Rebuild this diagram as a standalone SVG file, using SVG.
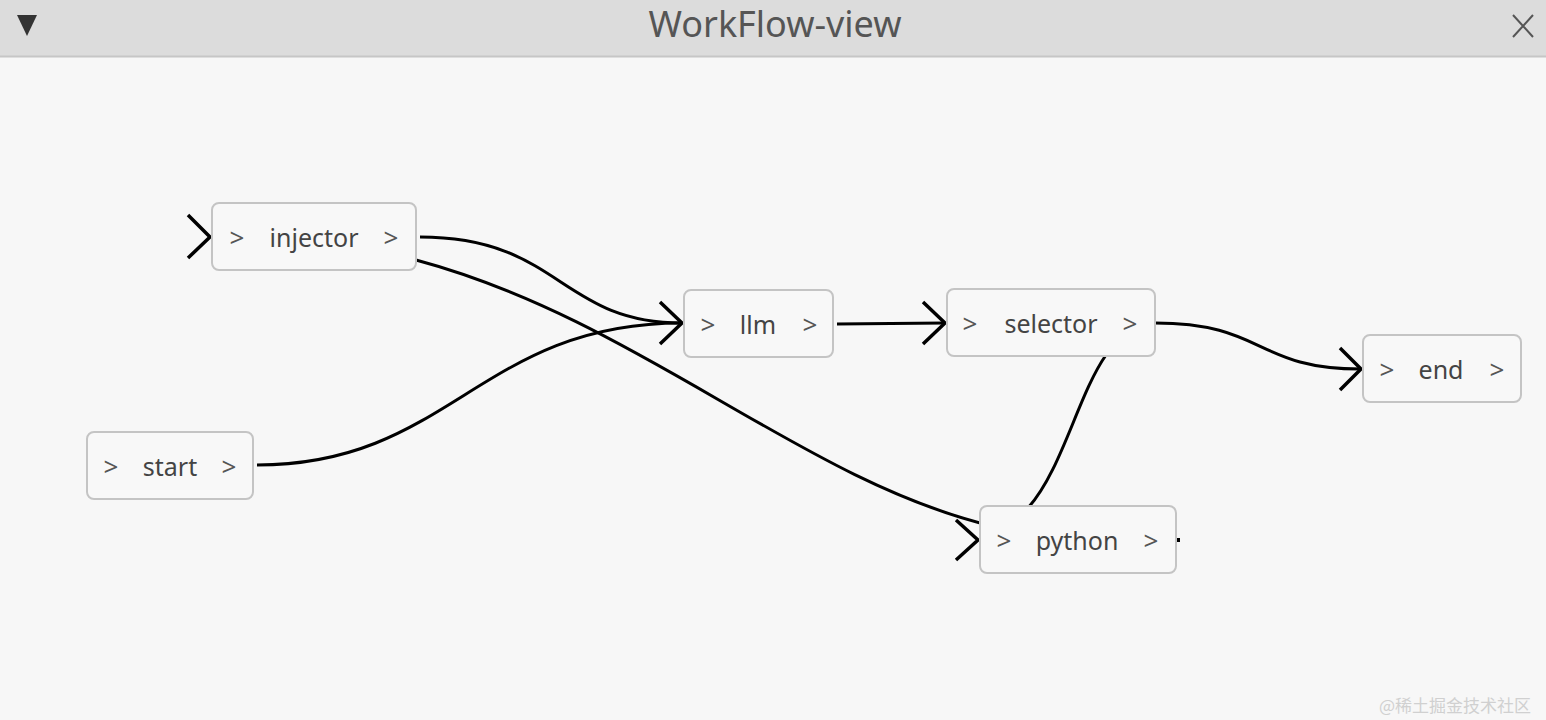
<svg xmlns="http://www.w3.org/2000/svg" width="1546" height="720" viewBox="0 0 1546 720">
<style>
.node rect{fill:#f8f8f8;stroke:#c4c4c4;stroke-width:2}
.node text{font-family:"Noto Sans",sans-serif;font-size:25px;fill:#444;text-anchor:middle;dominant-baseline:central}
.node .p{fill:#555;font-size:26px}
.edge{fill:none;stroke:#000;stroke-width:3}
.chev{fill:none;stroke:#000;stroke-width:3.5}
</style>
<rect x="0" y="0" width="1546" height="720" fill="#f7f7f7"/>
<g id="titlebar">
<rect x="0" y="0" width="1546" height="56" fill="#dcdcdc"/>
<line x1="0" y1="56.5" x2="1546" y2="56.5" stroke="#c6c6c6" stroke-width="2"/>
<polygon points="17,15 37,15 27,36" fill="#333"/>
<text x="775" y="23" font-family="Noto Sans,sans-serif" font-size="36" fill="#555" text-anchor="middle" dominant-baseline="central">WorkFlow-view</text>
<path d="M1513,15 L1533,37 M1533,15 L1513,37" stroke="#555" stroke-width="2" fill="none"/>
</g>
<g id="connectors">
<path class="edge" d="M420,237 C560,237 560,323 682,323"/>
<path class="edge" d="M416,260 C640,320 800,480 992,526"/>
<path class="edge" d="M257,465 C450,465 480,323 682,323"/>
<path class="edge" d="M837,324 L945,323"/>
<path class="edge" d="M1155,323 C1265,323 1255,369 1361,369"/>
<path class="edge" d="M1106,355 C1078,395 1062,470 1028,508"/>
<path class="chev" d="M188,215 L210,237 L188,258"/>
<path class="chev" d="M660,302 L682,323 L660,344"/>
<path class="chev" d="M923,302 L945,323 L923,344"/>
<path class="chev" d="M1340,348 L1361,369 L1340,390"/>
<path class="chev" d="M956,520 L978,540 L956,560"/>
<rect x="1176" y="538" width="4" height="4" fill="#000"/>
</g>
<g id="injector" class="node"><rect x="212" y="203" width="204" height="67" rx="7"/><text class="p" x="237" y="237">&gt;</text><text x="314" y="237">injector</text><text class="p" x="391" y="237">&gt;</text></g>
<g id="llm" class="node"><rect x="684" y="290" width="149" height="67" rx="7"/><text class="p" x="708" y="324">&gt;</text><text x="758" y="324">llm</text><text class="p" x="810" y="324">&gt;</text></g>
<g id="selector" class="node"><rect x="947" y="289" width="208" height="67" rx="7"/><text class="p" x="970" y="323">&gt;</text><text x="1051" y="323">selector</text><text class="p" x="1130" y="323">&gt;</text></g>
<g id="end" class="node"><rect x="1363" y="335" width="158" height="67" rx="7"/><text class="p" x="1387" y="369">&gt;</text><text x="1441" y="369">end</text><text class="p" x="1497" y="369">&gt;</text></g>
<g id="start" class="node"><rect x="87" y="432" width="166" height="67" rx="7"/><text class="p" x="111" y="466">&gt;</text><text x="170" y="466">start</text><text class="p" x="229" y="466">&gt;</text></g>
<g id="python" class="node"><rect x="980" y="506" width="196" height="67" rx="7"/><text class="p" x="1004" y="540">&gt;</text><text x="1077" y="540">python</text><text class="p" x="1151" y="540">&gt;</text></g>
<text x="1455" y="704" font-family="Noto Sans CJK SC,sans-serif" font-size="17" fill="#d0d0d0" text-anchor="middle" dominant-baseline="central">@稀土掘金技术社区</text>
</svg>
